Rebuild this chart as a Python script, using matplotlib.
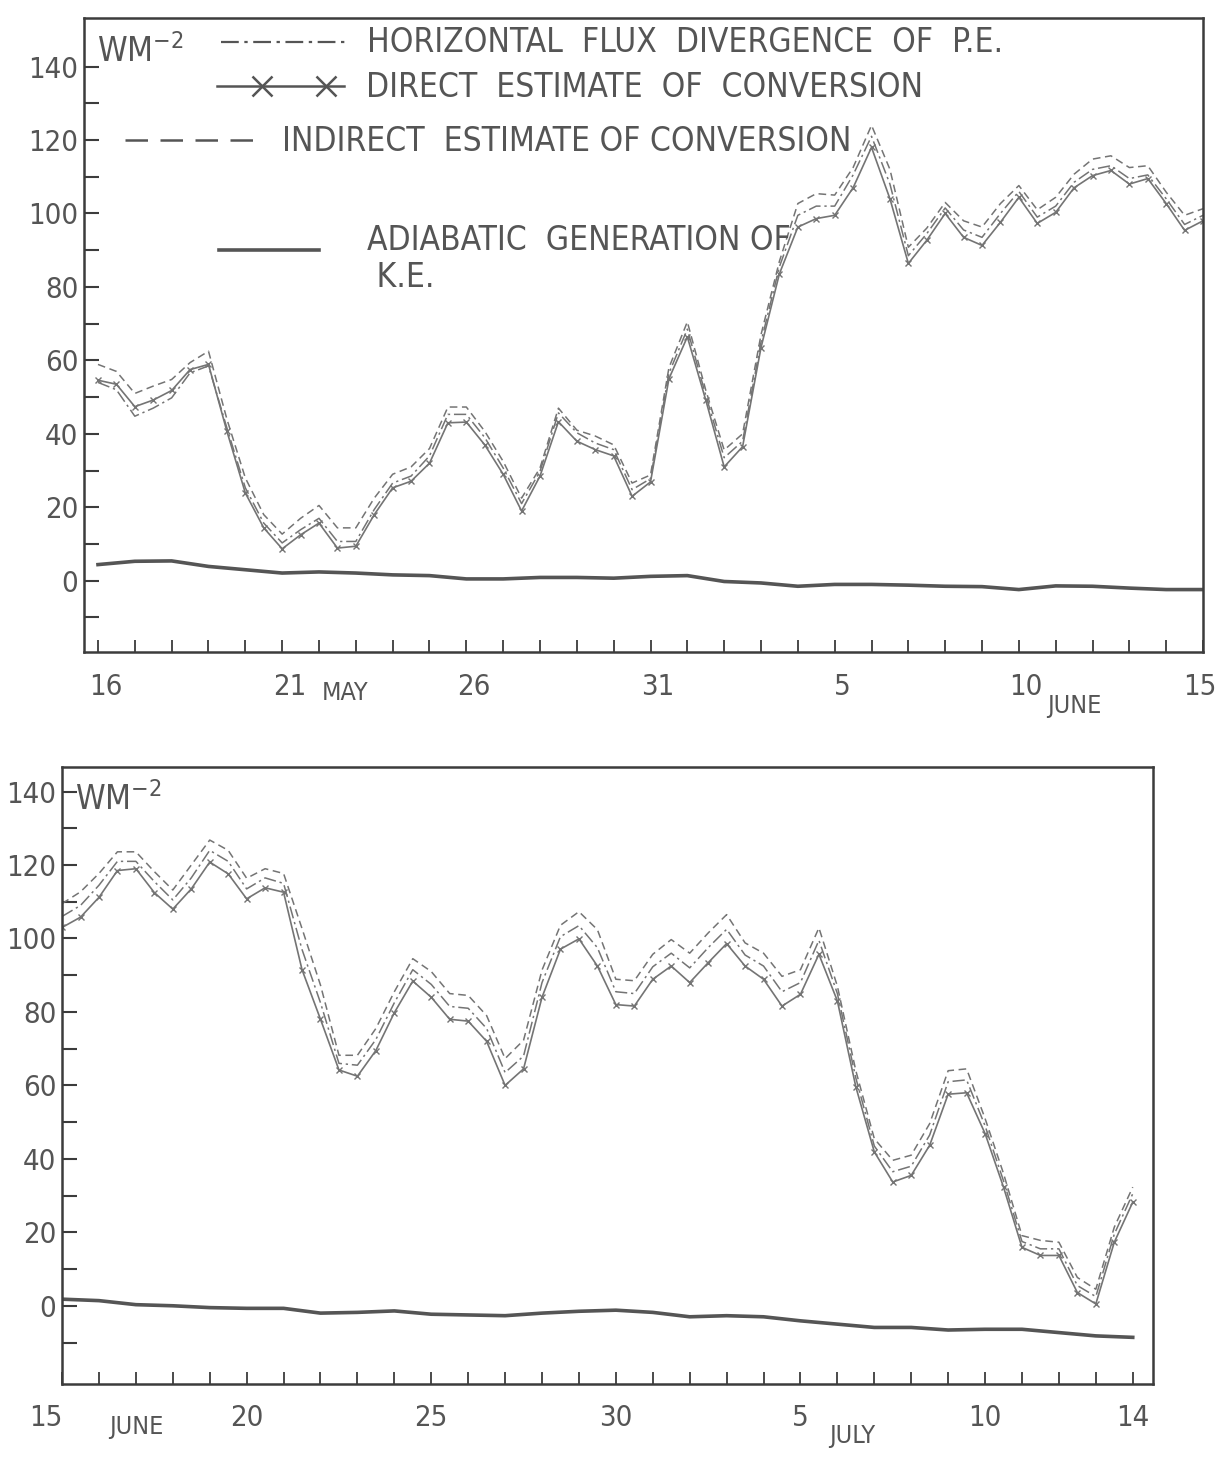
import numpy as np
import matplotlib.pyplot as plt

plt.rcParams['font.family'] = ['DejaVu Sans']
plt.rcParams['font.stretch'] = 'condensed'

INK = '#555555'
LINE = '#747474'

# 16 May - 15 June, values every 12 h (W m-2)
may_direct = [54.6, 53.5, 47.4, 49.2, 51.8, 57.5, 58.9, 40.7, 23.9, 14.4,
              8.7, 12.5, 15.7, 8.9, 9.4, 18.0, 25.3, 27.1, 32.0, 43.0,
              43.2, 37.0, 29.0, 19.0, 28.5, 43.3, 38.0, 35.7, 34.0, 23.0,
              26.9, 55.0, 66.4, 49.2, 31.0, 36.5, 63.5, 83.6, 96.3, 98.6,
              99.5, 107.0, 118.0, 104.0, 86.4, 92.7, 100.0, 93.5, 91.3, 97.6,
              104.4, 97.3, 100.3, 107.0, 110.3, 111.7, 108.0, 109.5, 102.7, 95.4,
              98.0]
may_indirect = [58.9, 57.0, 51.0, 53.0, 54.8, 59.4, 62.5, 44.0, 28.0, 18.0,
                12.7, 17.0, 20.5, 14.4, 14.4, 22.5, 29.0, 31.0, 36.0, 47.3,
                47.3, 40.7, 32.5, 22.5, 30.7, 47.0, 41.0, 39.4, 37.0, 26.6,
                28.8, 58.0, 70.5, 51.9, 35.6, 40.0, 67.0, 87.0, 102.7, 105.4,
                105.0, 112.5, 124.0, 112.0, 90.8, 96.0, 103.0, 98.0, 96.3, 102.7,
                107.6, 101.0, 104.4, 110.7, 114.8, 115.7, 112.5, 113.0, 105.8, 99.5,
                101.3]
may_flux = [54.0, 52.0, 44.8, 47.0, 49.8, 56.6, 58.5, 41.6, 25.3, 15.7,
            10.3, 13.9, 17.0, 10.7, 10.7, 19.4, 26.6, 28.5, 34.0, 45.3,
            45.3, 39.0, 30.7, 21.0, 29.8, 45.7, 40.3, 37.5, 35.7, 24.8,
            27.8, 56.5, 68.5, 50.5, 33.5, 38.0, 65.0, 85.5, 99.5, 102.0,
            102.0, 110.5, 121.0, 108.0, 88.5, 94.5, 101.5, 95.5, 93.5, 100.0,
            106.0, 99.0, 102.0, 108.5, 112.0, 113.0, 109.5, 110.5, 104.0, 97.0,
            99.5]
# adiabatic generation of K.E., daily
may_ke = [4.4, 5.3, 5.4, 3.9, 3.0, 2.1, 2.4, 2.1, 1.6, 1.4,
          0.5, 0.5, 0.9, 0.9, 0.7, 1.2, 1.4, -0.2, -0.6, -1.5,
          -1.0, -1.0, -1.2, -1.5, -1.6, -2.4, -1.4, -1.5, -2.0, -2.4,
          -2.4]

# 15 June - 14 July
jul_direct = [103.0, 105.8, 111.2, 118.5, 119.0, 112.5, 108.0, 113.5, 120.8, 117.6,
              110.8, 113.8, 112.6, 91.5, 78.0, 64.2, 62.5, 69.5, 79.8, 88.4,
              84.0, 78.0, 77.5, 72.0, 60.0, 64.5, 84.0, 97.1, 99.9, 92.5,
              82.0, 81.6, 88.9, 92.5, 88.0, 93.4, 98.6, 92.5, 88.9, 81.6,
              84.8, 95.7, 83.0, 59.6, 41.9, 33.7, 35.5, 43.7, 57.6, 58.0,
              46.9, 32.3, 15.9, 13.7, 13.7, 3.6, 0.5, 17.3, 28.2]
jul_indirect = [109.5, 112.7, 117.7, 123.6, 123.6, 118.2, 113.2, 120.0, 126.8, 124.0,
                116.4, 119.0, 117.7, 102.7, 87.3, 68.2, 68.2, 75.5, 85.5, 94.5,
                91.0, 85.0, 84.5, 79.0, 67.3, 72.3, 91.4, 103.6, 107.3, 102.4,
                88.9, 88.5, 95.7, 99.7, 96.0, 101.5, 106.5, 98.8, 96.0, 89.7,
                91.5, 102.9, 87.0, 64.0, 45.5, 39.6, 41.0, 49.6, 64.0, 64.5,
                51.0, 36.0, 19.1, 17.8, 17.3, 7.7, 4.5, 21.4, 32.3]
jul_flux = [106.0, 109.0, 114.5, 121.0, 121.0, 115.5, 110.5, 116.5, 124.0, 121.0,
            113.5, 116.5, 115.0, 97.0, 82.5, 66.0, 65.5, 72.5, 82.5, 91.5,
            87.5, 81.5, 81.0, 75.5, 63.5, 68.0, 88.0, 100.5, 103.5, 97.5,
            85.5, 85.0, 92.3, 96.0, 92.0, 97.5, 102.5, 95.5, 92.5, 85.5,
            88.0, 99.5, 85.0, 62.0, 43.5, 36.5, 38.0, 46.5, 61.0, 61.5,
            49.0, 34.0, 17.5, 15.5, 15.5, 5.5, 2.5, 19.5, 30.5]
jul_ke = [1.8, 1.4, 0.3, 0.0, -0.5, -0.7, -0.7, -2.0, -1.8, -1.4,
          -2.3, -2.5, -2.7, -2.0, -1.5, -1.2, -1.8, -3.0, -2.7, -3.0,
          -4.1, -5.0, -5.9, -5.9, -6.6, -6.4, -6.4, -7.3, -8.2, -8.6]

may_ticks = [0, 5, 10, 15, 20, 25, 30]
may_labels = ['16', '21', '26', '31', '5', '10', '15']
jul_ticks = [0, 5, 10, 15, 20, 25, 29]
jul_labels = ['15', '20', '25', '30', '5', '10', '14']

legend_names = ['HORIZONTAL  FLUX  DIVERGENCE  OF  P.E.',
                'DIRECT  ESTIMATE  OF  CONVERSION',
                'INDIRECT  ESTIMATE OF CONVERSION',
                'ADIABATIC  GENERATION OF\n K.E.']

FLUX_DASH = (8, 2.5, 1.5, 2.5)
IND_DASH = (5, 3)
TICK_FS = 21
KEY_FS = 24


def draw_panel(ax, direct, indirect, flux, ke):
    t = np.arange(len(direct)) * 0.5
    ax.plot(t, flux, color=LINE, lw=1.1, dashes=FLUX_DASH)
    ax.plot(t, indirect, color=LINE, lw=1.1, dashes=IND_DASH)
    ax.plot(t, direct, color=LINE, lw=1.2, marker='x', ms=4, mew=1.0)
    ax.plot(np.arange(len(ke)), ke, color=INK, lw=2.6)

    for s in ax.spines.values():
        s.set_color('#3c3c3c')
        s.set_linewidth(1.8)
    ax.set_yticks(range(0, 141, 20))
    ax.set_yticks(range(-10, 141, 10), minor=True)
    ax.tick_params(axis='y', which='both', direction='in', length=11, width=1.5,
                   color='#3c3c3c', labelsize=TICK_FS, labelcolor=INK, pad=4)
    ax.set_xticks(range(0, int(ax.get_xlim()[1]) + 1))
    ax.set_xticklabels([])
    ax.tick_params(axis='x', direction='in', length=9, width=1.3, color='#3c3c3c')
    ax.text(0.012, 0.975, r'WM$^{-2}$', transform=ax.transAxes, fontsize=24,
            color=INK, va='top', ha='left')


fig = plt.figure(figsize=(12.19, 14.57), dpi=100)

# ---------------- top panel ----------------
ax1 = fig.add_axes([0.0689, 0.5525, 0.918, 0.4351])
ax1.set_xlim(-0.38, 30)
ax1.set_ylim(-19.4, 153.2)
draw_panel(ax1, may_direct, may_indirect, may_flux, may_ke)
for d, lab in zip(may_ticks, may_labels):
    off = -0.1 if d == 30 else 0.2
    ax1.text(d + off, -0.055, lab, transform=ax1.get_xaxis_transform(),
             fontsize=TICK_FS, color=INK, ha='center', va='center')
ax1.text(6.7, -0.065, 'MAY', transform=ax1.get_xaxis_transform(),
         fontsize=18, color=INK, ha='center', va='center')
ax1.text(26.5, -0.085, 'JUNE', transform=ax1.get_xaxis_transform(),
         fontsize=18, color=INK, ha='center', va='center')

# hand-drawn style key
key_lines = [((0.1224, 0.2341), 0.962, dict(dashes=FLUX_DASH, lw=1.6)),
             ((0.1189, 0.2324), 0.893, dict(lw=1.8)),
             ((0.0366, 0.1528), 0.808, dict(dashes=(9, 5), lw=1.8)),
             ((0.1206, 0.2100), 0.634, dict(lw=2.6))]
key_text = [(0.2529, 0.962), (0.2520, 0.890), (0.1770, 0.806), (0.2529, 0.620)]
for (xs, y, kw), (tx, ty), name in zip(key_lines, key_text, legend_names):
    ax1.plot(xs, [y, y], transform=ax1.transAxes, color=INK, **kw)
    ax1.text(tx, ty, name, transform=ax1.transAxes, fontsize=KEY_FS, color=INK,
             ha='left', va='center', linespacing=1.15)
ax1.plot([0.159, 0.2163], [0.893, 0.893], transform=ax1.transAxes, ls='none',
         marker='x', ms=14, mew=1.8, color=INK)

# ---------------- bottom panel ----------------
ax2 = fig.add_axes([0.0509, 0.0501, 0.895, 0.4235])
ax2.set_xlim(0, 29.55)
ax2.set_ylim(-21.3, 146.7)
draw_panel(ax2, jul_direct, jul_indirect, jul_flux, jul_ke)
for d, lab in zip(jul_ticks, jul_labels):
    off = -0.45 if d == 0 else 0.0
    ax2.text(d + off, -0.055, lab, transform=ax2.get_xaxis_transform(),
             fontsize=TICK_FS, color=INK, ha='center', va='center')
ax2.text(2.0, -0.07, 'JUNE', transform=ax2.get_xaxis_transform(),
         fontsize=18, color=INK, ha='center', va='center')
ax2.text(21.4, -0.085, 'JULY', transform=ax2.get_xaxis_transform(),
         fontsize=18, color=INK, ha='center', va='center')

fig.savefig('out.png', dpi=100, facecolor='white')
